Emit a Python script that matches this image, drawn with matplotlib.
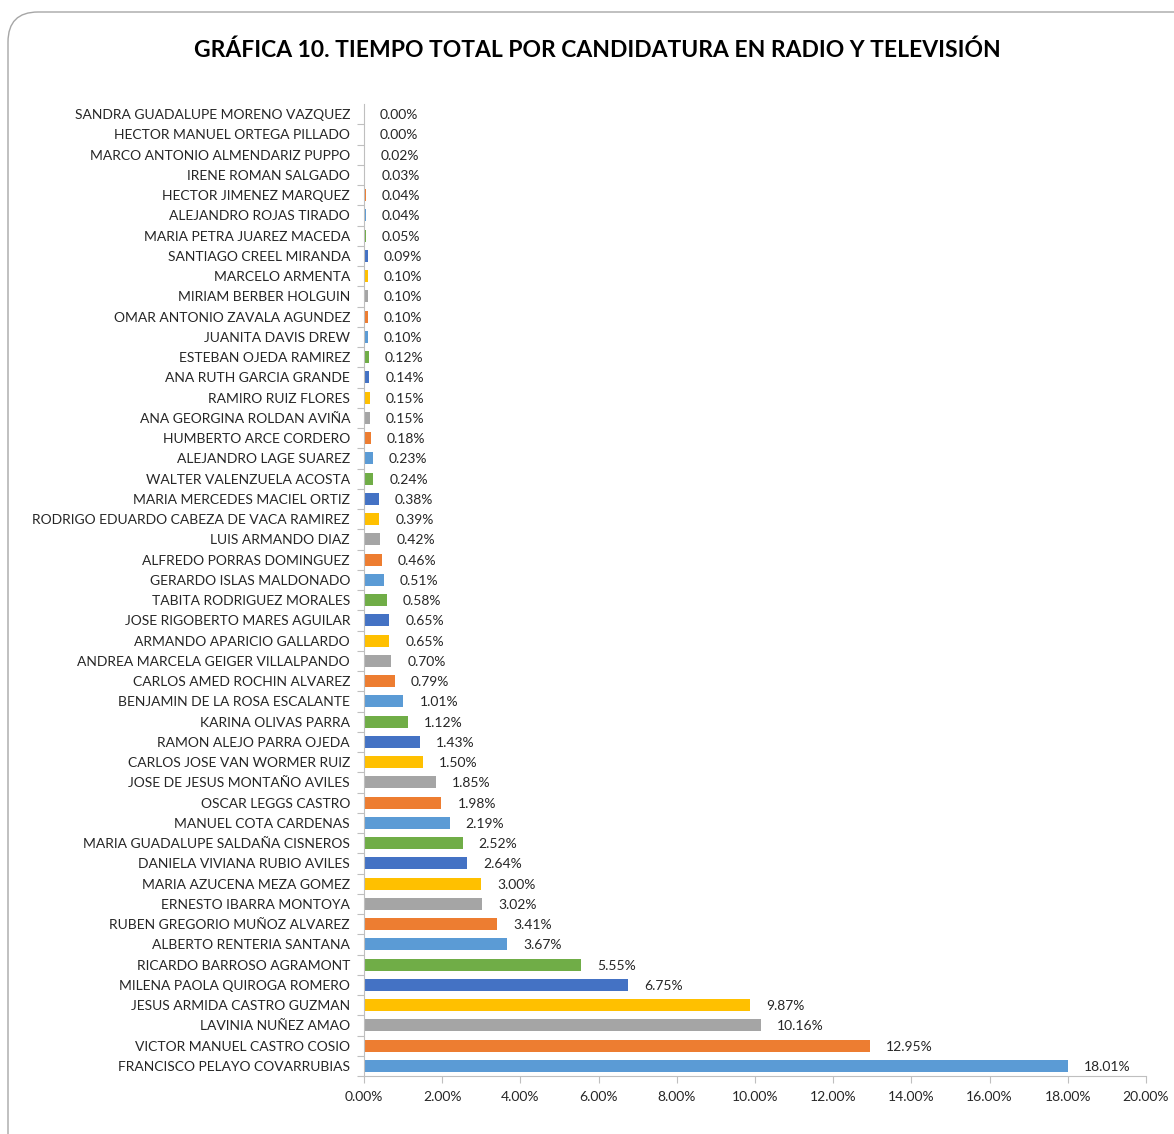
import matplotlib
matplotlib.use("Agg")
import matplotlib.pyplot as plt
from matplotlib.patches import FancyBboxPatch
from matplotlib.ticker import FuncFormatter, MultipleLocator

# Data listed bottom to top
candidates = [
    "FRANCISCO PELAYO COVARRUBIAS", "VICTOR MANUEL CASTRO COSIO", "LAVINIA NUÑEZ AMAO",
    "JESUS ARMIDA CASTRO GUZMAN", "MILENA PAOLA QUIROGA ROMERO", "RICARDO BARROSO AGRAMONT",
    "ALBERTO RENTERIA SANTANA", "RUBEN GREGORIO MUÑOZ ALVAREZ", "ERNESTO IBARRA MONTOYA",
    "MARIA AZUCENA MEZA GOMEZ", "DANIELA VIVIANA RUBIO AVILES", "MARIA GUADALUPE SALDAÑA CISNEROS",
    "MANUEL COTA CARDENAS", "OSCAR LEGGS CASTRO", "JOSE DE JESUS MONTAÑO AVILES",
    "CARLOS JOSE VAN WORMER RUIZ", "RAMON ALEJO PARRA OJEDA", "KARINA OLIVAS PARRA",
    "BENJAMIN DE LA ROSA ESCALANTE", "CARLOS AMED ROCHIN ALVAREZ", "ANDREA MARCELA GEIGER VILLALPANDO",
    "ARMANDO APARICIO GALLARDO", "JOSE RIGOBERTO MARES AGUILAR", "TABITA RODRIGUEZ MORALES",
    "GERARDO ISLAS MALDONADO", "ALFREDO PORRAS DOMINGUEZ", "LUIS ARMANDO DIAZ",
    "RODRIGO EDUARDO CABEZA DE VACA RAMIREZ", "MARIA MERCEDES MACIEL ORTIZ", "WALTER VALENZUELA ACOSTA",
    "ALEJANDRO LAGE SUAREZ", "HUMBERTO ARCE CORDERO", "ANA GEORGINA ROLDAN AVIÑA",
    "RAMIRO RUIZ FLORES", "ANA RUTH GARCIA GRANDE", "ESTEBAN OJEDA RAMIREZ",
    "JUANITA DAVIS DREW", "OMAR ANTONIO ZAVALA AGUNDEZ", "MIRIAM BERBER HOLGUIN",
    "MARCELO ARMENTA", "SANTIAGO CREEL MIRANDA", "MARIA PETRA JUAREZ MACEDA",
    "ALEJANDRO ROJAS TIRADO", "HECTOR JIMENEZ MARQUEZ", "IRENE ROMAN SALGADO",
    "MARCO ANTONIO ALMENDARIZ PUPPO", "HECTOR MANUEL ORTEGA PILLADO", "SANDRA GUADALUPE MORENO VAZQUEZ",
]
percentages = [
    18.01, 12.95, 10.16, 9.87, 6.75, 5.55,
    3.67, 3.41, 3.02, 3.00, 2.64, 2.52,
    2.19, 1.98, 1.85, 1.50, 1.43, 1.12,
    1.01, 0.79, 0.70, 0.65, 0.65, 0.58,
    0.51, 0.46, 0.42, 0.39, 0.38, 0.24,
    0.23, 0.18, 0.15, 0.15, 0.14, 0.12,
    0.10, 0.10, 0.10, 0.10, 0.09, 0.05,
    0.04, 0.04, 0.03, 0.02, 0.00, 0.00,
]
palette = ["#5B9BD5", "#ED7D31", "#A5A5A5", "#FFC000", "#4472C4", "#70AD47"]
title = "GRÁFICA 10. TIEMPO TOTAL POR CANDIDATURA EN RADIO Y TELEVISIÓN"

plt.rcParams['font.family'] = ['Lato', 'DejaVu Sans']

W, H = 1174, 1134
fig = plt.figure(figsize=(W / 100, H / 100), dpi=100)

# rounded frame
frame = FancyBboxPatch((0.08 + 0.3, -1.0), 14, 11.34 - 0.12 + 1.0 - 0.3,
                       boxstyle="round,pad=0.3", transform=fig.dpi_scale_trans,
                       facecolor="none", edgecolor="#A6A6A6", linewidth=1.0, zorder=0)
fig.patches.append(frame)

ax = fig.add_axes([364 / W, 1 - 1076 / H, (1146 - 364) / W, (1076 - 104) / H])
ax.set_facecolor("none")
ax.set_zorder(2)

ypos = list(range(len(candidates)))
colors = [palette[i % len(palette)] for i in ypos]
ax.barh(ypos, percentages, height=0.6, color=colors, zorder=2)

for y, v in zip(ypos, percentages):
    ax.annotate(f"{v:.2f}%", xy=(v, y), xytext=(16, -1), textcoords="offset pixels",
                ha="left", va="center", fontsize=10, color="#262626")

ax.set_xlim(0, 20)
ax.set_ylim(-0.5, len(candidates) - 0.5)
ax.set_yticks(ypos)
ax.set_yticklabels(candidates, fontsize=10, color="#262626")
ax.xaxis.set_major_locator(MultipleLocator(2))
ax.xaxis.set_major_formatter(FuncFormatter(lambda x, p: f"{x:.2f}%"))
for lbl in ax.get_xticklabels():
    lbl.set_fontsize(10)
    lbl.set_color("#262626")

ax.set_yticks([y + 0.5 for y in ypos[:-1]] + [-0.5], minor=True)
ax.tick_params(axis="y", which="major", length=0, pad=10)
ax.tick_params(axis="y", which="minor", length=5, color="#BFBFBF", width=0.8)
ax.tick_params(axis="x", which="major", length=5, color="#BFBFBF", width=0.8, pad=6)

for s in ["top", "right"]:
    ax.spines[s].set_visible(False)
for s in ["left", "bottom"]:
    ax.spines[s].set_color("#BFBFBF")
    ax.spines[s].set_linewidth(0.8)

fig.text(597 / W, 1 - 50 / H, title, ha="center", va="center",
         fontsize=16.5, fontweight="bold", color="#000000")

fig.savefig("out.png", dpi=100)
